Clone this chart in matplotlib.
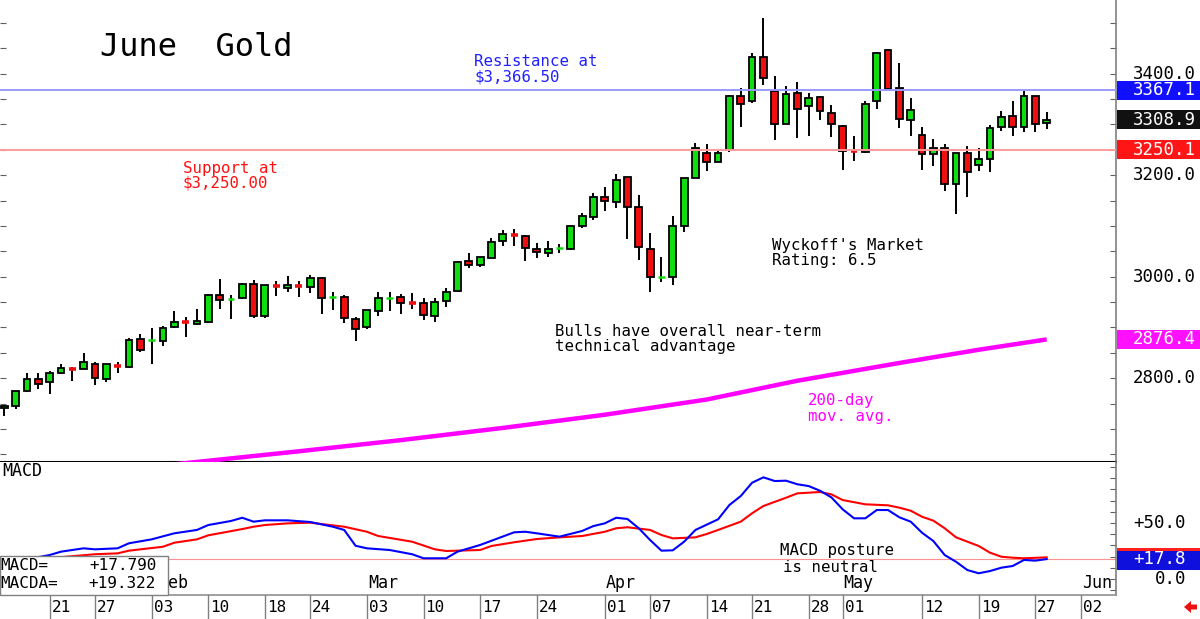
import numpy as np
import pandas as pd
import matplotlib
matplotlib.use('Agg')
import matplotlib.pyplot as plt
import matplotlib.transforms as mtrans
from matplotlib.patches import Rectangle, Polygon

# ---------------- data ----------------
holidays = ['2025-01-20', '2025-02-17', '2025-04-18', '2025-05-26']
axis_days = pd.bdate_range('2025-01-14', '2025-06-02').drop(pd.to_datetime(holidays))

opens = [2741, 2745, 2775, 2798, 2792, 2811, 2819, 2819, 2827, 2799,
         2826, 2822, 2877, 2874, 2874, 2900, 2911, 2907, 2910, 2964,
         2956, 2957, 2985, 2922, 2982, 2978, 2982, 2979, 2998, 2960,
         2960, 2916, 2900, 2933, 2958, 2959, 2948, 2948, 2922, 2952,
         2971, 3030, 3022, 3037, 3070, 3084, 3080, 3054, 3047, 3056,
         3055, 3100, 3118, 3156, 3148, 3196, 3137, 3055, 2999, 3000,
         3100, 3195, 3244, 3226, 3249, 3356, 3346, 3433, 3366, 3301,
         3361, 3336, 3353, 3322, 3297, 3249, 3246, 3346, 3446, 3372,
         3309, 3279, 3241, 3253, 3182, 3243, 3220, 3232, 3294, 3316,
         3294, 3355, 3302]
highs = [2747, 2775, 2810, 2811, 2814, 2828, 2822, 2850, 2832, 2828,
         2831, 2879, 2888, 2898, 2903, 2932, 2920, 2937, 2966, 2996,
         2964, 2987, 2993, 2984, 2991, 3001, 2991, 3003, 2999, 2970,
         2964, 2921, 2935, 2969, 2970, 2966, 2967, 2957, 2958, 2977,
         3030, 3046, 3039, 3076, 3091, 3094, 3082, 3066, 3071, 3064,
         3102, 3125, 3164, 3176, 3202, 3197, 3160, 3086, 3039, 3120,
         3195, 3263, 3261, 3247, 3358, 3371, 3441, 3509, 3395, 3376,
         3384, 3362, 3355, 3338, 3299, 3277, 3347, 3443, 3448, 3420,
         3352, 3295, 3271, 3261, 3244, 3257, 3253, 3299, 3327, 3346,
         3366, 3356, 3324]
lows = [2726, 2739, 2772, 2779, 2769, 2809, 2795, 2818, 2787, 2793,
        2811, 2821, 2852, 2828, 2863, 2898, 2882, 2904, 2909, 2937,
        2917, 2956, 2918, 2918, 2962, 2969, 2959, 2968, 2926, 2934,
        2909, 2873, 2897, 2923, 2932, 2927, 2936, 2915, 2911, 2941,
        2970, 3017, 3020, 3036, 3060, 3060, 3031, 3036, 3039, 3047,
        3052, 3096, 3112, 3130, 3136, 3074, 3033, 2970, 2990, 2984,
        3087, 3194, 3208, 3225, 3245, 3295, 3343, 3377, 3270, 3300,
        3274, 3277, 3309, 3276, 3210, 3228, 3244, 3331, 3366, 3292,
        3278, 3211, 3218, 3169, 3123, 3156, 3209, 3207, 3286, 3277,
        3284, 3284, 3290]
closes = [2746, 2774, 2798, 2789, 2811, 2820, 2817, 2831, 2800, 2827,
          2823, 2876, 2856, 2875, 2898, 2911, 2909, 2913, 2964, 2955,
          2957, 2985, 2922, 2983, 2980, 2983, 2980, 2997, 2958, 2961,
          2918, 2897, 2934, 2958, 2959, 2949, 2947, 2924, 2951, 2970,
          3028, 3022, 3038, 3069, 3085, 3082, 3056, 3048, 3055, 3057,
          3100, 3119, 3156, 3150, 3190, 3138, 3058, 3000, 3000, 3099,
          3194, 3254, 3226, 3244, 3356, 3341, 3433, 3392, 3301, 3360,
          3330, 3352, 3327, 3300, 3248, 3248, 3341, 3441, 3369, 3311,
          3328, 3242, 3254, 3182, 3243, 3206, 3232, 3292, 3314, 3294,
          3356, 3300, 3308.9]

# 200-day moving average (trading-day index, value)
ma_day = [14, 17, 26, 35, 44, 53, 62, 70, 79, 86, 92]
ma_val = [2628, 2635, 2656, 2678, 2702, 2728, 2758, 2795, 2830, 2856, 2876.4]

# MACD (blue) and MACD average (red)
macd_day = [3, 4, 5, 7, 8, 10, 11, 13, 15, 17, 18, 20, 21, 22, 23, 25, 27, 29, 30, 31,
            32, 34, 36, 37, 39, 40, 42, 45, 46, 47, 49, 51, 52, 53, 54, 55, 56, 57, 58, 59,
            60, 61, 63, 64, 65, 66, 67, 68, 69, 70, 71, 72, 73, 74, 75, 76, 77, 78, 79, 80,
            81, 82, 83, 84, 85, 86, 87, 88, 89, 90, 91, 92]
macd_val = [19.5, 21.4, 24.4, 27.4, 26.5, 27.4, 31.9, 35.4, 40.8, 43.8, 48.2, 51.8, 54.7, 51.2,
            52.4, 52.4, 50.9, 46.7, 43.8, 29.7, 27.4, 25.9, 22.1, 18.5, 18.5, 24.4, 30.4, 41.7,
            42.2, 40.8, 37.8, 42.9, 47.3, 49.7, 54.7, 53.6, 45.3, 34.8, 25.3, 25.6, 33.3, 43.8,
            53.3, 66.1, 74.1, 86.0, 90.8, 87.5, 87.8, 84.6, 83.0, 78.8, 72.9, 62.2, 54.2, 54.2,
            61.6, 61.6, 55.1, 51.2, 41.3, 33.9, 21.4, 15.4, 8.0, 5.1, 7.1, 10.1, 11.6, 17.0,
            16.4, 17.79]
macda_day = [2, 5, 8, 10, 11, 14, 15, 17, 18, 21, 22, 23, 25, 27, 28, 30, 32, 33, 36, 38,
             39, 42, 43, 45, 47, 49, 51, 53, 54, 55, 57, 58, 59, 61, 62, 63, 65, 66, 67, 69,
             70, 72, 73, 74, 76, 78, 79, 80, 81, 82, 83, 84, 86, 87, 88, 89, 90, 92]
macda_val = [17.0, 19.5, 22.1, 22.9, 25.3, 28.8, 32.4, 35.4, 39.0, 44.6, 46.7, 48.2, 49.7,
             50.3, 49.1, 46.7, 42.2, 38.4, 33.3, 26.5, 25.0, 25.9, 29.5, 32.8, 35.7, 37.2,
             38.4, 42.2, 45.3, 46.2, 43.8, 39.3, 36.3, 37.2, 40.2, 43.8, 51.2, 58.7, 65.2,
             72.6, 76.5, 77.7, 75.6, 70.5, 66.7, 65.8, 63.7, 61.0, 55.6, 52.1, 45.3, 37.2,
             29.5, 23.5, 19.9, 19.0, 18.5, 19.32]

resistance = 3367.1
support = 3250.1
last_close = 3308.9
last_ma = 2876.4
macd_last = 17.79
macda_last = 19.322

tick_dates = ['2025-01-21', '2025-01-27', '2025-02-03', '2025-02-10', '2025-02-18',
              '2025-02-24', '2025-03-03', '2025-03-10', '2025-03-17', '2025-03-24',
              '2025-04-01', '2025-04-07', '2025-04-14', '2025-04-21', '2025-04-28',
              '2025-05-01', '2025-05-12', '2025-05-19', '2025-05-27', '2025-06-02']
month_dates = ['2025-02-03', '2025-03-03', '2025-04-01', '2025-05-01', '2025-06-02']
month_names = ['Feb', 'Mar', 'Apr', 'May', 'Jun']
price_labels = [3400, 3200, 3000, 2800]
macd_labels = [50, 0]

# ---------------- figure ----------------
FONT = 'DejaVu Sans Mono'
plt.rcParams['font.family'] = [FONT, 'DejaVu Sans']
W, H = 1200, 619
fig = plt.figure(figsize=(W / 100, H / 100), dpi=100)
fig.patch.set_facecolor('white')

ax_r = 1116 / W
ax = fig.add_axes([0, 1 - 462 / H, ax_r, 462 / H])
ax2 = fig.add_axes([0, 1 - 595 / H, ax_r, 133 / H])
ov = fig.add_axes([0, 0, 1, 1], zorder=10)
ov.set_xlim(0, W)
ov.set_ylim(H, 0)
ov.axis('off')
ov.patch.set_alpha(0)

xlim = (-0.38, 98.12)
ax.set_xlim(*xlim)
ax.set_ylim(2634.9, 3545)
ax2.set_xlim(*xlim)
ax2.set_ylim(-14.3, 104.5)

day_index = {d: i for i, d in enumerate(axis_days)}
n = len(opens)
xs = np.arange(n)

GREEN = '#10dd10'
RED = '#ee1010'

# candles
for i in range(n):
    o, h, l, c = opens[i], highs[i], lows[i], closes[i]
    col = GREEN if c >= o else RED
    ax.vlines(xs[i], l, h, color='black', lw=1.4, zorder=3)
    if abs(c - o) <= 3.5:
        ax.hlines((o + c) / 2, xs[i] - 0.3, xs[i] + 0.3, color=col,
                  lw=2.6 if col == RED else 1.8, zorder=4)
    else:
        ax.add_patch(Rectangle((xs[i] - 0.3, min(o, c)), 0.6, abs(c - o),
                               facecolor=col, edgecolor='black', lw=1.3, zorder=4))

ax.axhline(resistance, color='#9a9aff', lw=1.4, zorder=5)
ax.axhline(support, color='#ff9a9a', lw=1.4, zorder=5)
ax.plot(ma_day, ma_val, color='#ff00ff', lw=3.2, zorder=3, solid_capstyle='butt')

for a in (ax, ax2):
    for s in ('left', 'top'):
        a.spines[s].set_visible(False)
    a.spines['right'].set_color('#808080')
    a.spines['right'].set_linewidth(1.2)
    a.set_xticks([])
ax.spines['bottom'].set_color('black')
ax.spines['bottom'].set_linewidth(1.5)
ax2.spines['bottom'].set_color('#909090')
ax2.spines['bottom'].set_linewidth(1.2)

ax.set_yticks(np.arange(2650, 3550, 50))
ax.tick_params(axis='y', which='both', left=True, right=True, direction='in',
               length=4, color='#606060', labelleft=False, labelright=False)
ax2.set_yticks(np.arange(-10, 105, 10))
ax2.tick_params(axis='y', which='both', left=False, right=True, direction='in',
                length=4, color='#606060', labelleft=False, labelright=False)

# MACD lines
ax2.axhline(macd_last, color='#ff9090', lw=0.8, zorder=1)
ax2.plot(macda_day, macda_val, color='#ff0000', lw=1.5, zorder=3)
ax2.plot(macd_day, macd_val, color='#0000ff', lw=1.5, zorder=4)

# ---------------- texts ----------------
ov.text(100, 48, 'June  Gold', fontsize=23, color='black', va='center', ha='left')
ov.text(474, 69, 'Resistance at\n$3,366.50', fontsize=11.3, color='#2020ff',
        va='center', ha='left', linespacing=1.0)
ov.text(183, 175.5, 'Support at\n$3,250.00', fontsize=11.3, color='#ff1010',
        va='center', ha='left', linespacing=1.0)
ov.text(772, 253, "Wyckoff's Market\nRating: 6.5", fontsize=11.3, color='black',
        va='center', ha='left', linespacing=1.0)
ov.text(555, 338.5, 'Bulls have overall near-term\ntechnical advantage', fontsize=11.3,
        color='black', va='center', ha='left', linespacing=1.0)
ov.text(808, 408.5, '200-day\nmov. avg.', fontsize=11.3, color='#ff00ff',
        va='center', ha='left', linespacing=1.0)
ov.text(2, 471, 'MACD', fontsize=12, color='black', va='center', ha='left')
ov.text(780, 550, 'MACD posture', fontsize=11.3, color='black', va='center', ha='left')
ov.text(783, 567, 'is neutral', fontsize=11.3, color='black', va='center', ha='left')

# right-hand value labels
def right_label(axis, val, text, xr):
    tr = mtrans.blended_transform_factory(ov.transData, axis.transData)
    ov.text(xr, val, text, transform=tr, ha='right', va='center', fontsize=12.5,
            color='black', clip_on=False)

def value_box(axis, val, text, bg, xr=1196, stripe=None, hpx=19):
    tr = mtrans.blended_transform_factory(ov.transData, axis.transData)
    y0, y1 = axis.get_ylim()
    h = hpx * (y1 - y0) / axis.bbox.height
    ov.add_patch(Rectangle((1117, val - h / 2), W - 1117, h, transform=tr,
                           facecolor=bg, edgecolor='none', clip_on=False))
    if stripe is not None:
        sh = 3 * (y1 - y0) / axis.bbox.height
        ov.add_patch(Rectangle((1117, val + h / 2 - sh), W - 1117, sh, transform=tr,
                               facecolor=stripe, edgecolor='none', clip_on=False))
    ov.text(xr, val, text, transform=tr, ha='right', va='center', fontsize=12.5,
            color='white', clip_on=False)

for p in price_labels:
    right_label(ax, p, f'{p:.1f}', 1196)
value_box(ax, resistance, f'{resistance:.1f}', '#1010ff')
value_box(ax, last_close, f'{last_close:.1f}', '#111111')
value_box(ax, support, f'{support:.1f}', '#ff1515')
value_box(ax, last_ma, f'{last_ma:.1f}', '#ff10ff')
for m in macd_labels:
    right_label(ax2, m, f'+{m:.1f}' if m > 0 else f'{m:.1f}', 1186)
value_box(ax2, macd_last, f'+{macd_last:.1f}', '#1010dd', xr=1186, stripe='#ff2020', hpx=22)

# date row
trx = mtrans.blended_transform_factory(ax.transData, ov.transData)
for d in tick_dates:
    xi = day_index[pd.Timestamp(d)]
    ov.plot([xi, xi], [595, 619], transform=trx, color='#808080', lw=1.0, clip_on=False)
    ov.text(xi, 608, pd.Timestamp(d).strftime('%d'),
            transform=mtrans.offset_copy(trx, fig, x=2, units='dots'),
            ha='left', va='center', fontsize=11.5, color='black', clip_on=False)
for d, name in zip(month_dates, month_names):
    xi = day_index[pd.Timestamp(d)]
    # the first month label sits partly behind the MACD value box
    dx = 7 if name == 'Feb' else 1
    ov.text(xi, 583, name, transform=mtrans.offset_copy(trx, fig, x=dx, units='dots'),
            ha='left', va='center', fontsize=12, color='black', clip_on=False, zorder=5)

# MACD legend box
ov.add_patch(Rectangle((0, 556), 168, 39, facecolor='white', edgecolor='#808080', lw=1.0,
                       zorder=20))
ov.text(0, 566, 'MACD=', fontsize=11.5, va='center', ha='left', zorder=21)
ov.text(157, 566, f'+{macd_last:.3f}', fontsize=11.5, va='center', ha='right', zorder=21)
ov.text(0, 584, 'MACDA=', fontsize=11.5, va='center', ha='left', zorder=21)
ov.text(156, 584, f'+{macda_last:.3f}', fontsize=11.5, va='center', ha='right', zorder=21)

# small red arrow (pointing left)
ov.add_patch(Polygon([(1184, 607), (1191, 601), (1191, 604.5), (1197, 604.5),
                      (1197, 609.5), (1191, 609.5), (1191, 613)],
                     closed=True, facecolor='#ee1010', edgecolor='none'))

fig.savefig('out.png', dpi=100, facecolor='white')
